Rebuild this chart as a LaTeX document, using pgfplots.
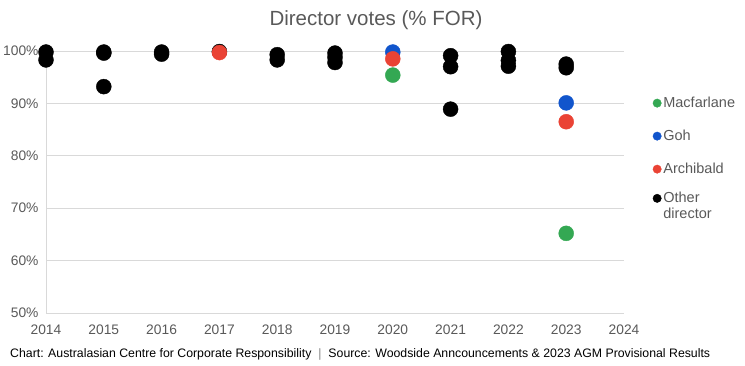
\documentclass[border=0pt]{standalone}
\usepackage{fontspec}
\setmainfont{Liberation Sans}
\usepackage{pgfplots}
\pgfplotsset{compat=1.18}
\definecolor{cgreen}{HTML}{34A853}
\definecolor{cblue}{HTML}{1155CC}
\definecolor{cred}{HTML}{EA4335}
\definecolor{gridgray}{HTML}{D9D9D9}
\definecolor{labelgray}{HTML}{595959}
\begin{document}
\begin{tikzpicture}[x=1pt,y=1pt]
\useasboundingbox (0,0) rectangle (745,366);
\begin{axis}[
  at={(46pt,53pt)}, anchor=south west,
  scale only axis, width=578pt, height=262pt,
  xmin=2014, xmax=2024, ymin=50, ymax=100,
  xtick={2014,2015,...,2024}, ytick={50,60,...,100},
  /pgf/number format/assume math mode=true,
  x tick label style={/pgf/number format/1000 sep={}, yshift=-8pt},
  y tick label style={xshift=-4pt},
  yticklabel={\pgfmathprintnumber{\tick}\%},
  tick label style={font=\fontsize{13.8}{16}\selectfont, text=labelgray},
  ymajorgrids, grid style={gridgray, line width=0.75pt},
  axis x line*=bottom, axis y line*=left,
  axis line style={gridgray, line width=0.75pt, -},
  major tick length=0pt,
  clip=false,
  legend style={at={(1.048,0.84)}, anchor=north west, draw=none, fill=none,
    font=\fontsize{14.5}{17}\selectfont, text=labelgray, row sep=17pt,
    cells={anchor=west}, inner xsep=1pt},
  legend cell align=left,
  legend image code/.code={\draw[#1] plot coordinates {(0pt,0pt)};},
]
\addplot[only marks, mark=*, mark size=7.5pt, black, forget plot] coordinates {
(2014,99.8) (2014,98.3)
(2015,99.8) (2015,99.6) (2015,93.2)
(2016,99.8) (2016,99.4)
(2017,99.9)
(2018,99.3) (2018,98.3)
(2019,99.6) (2019,98.8) (2019,97.8)
(2021,99.1) (2021,97.0) (2021,88.9)
(2022,99.9) (2022,98.2) (2022,97.1)
(2023,97.5) (2023,96.8)
};
\addplot[only marks, mark=*, mark size=7.5pt, cblue, forget plot] coordinates {
(2020,99.8) (2023,90.1)
};
\addplot[only marks, mark=*, mark size=7.5pt, cred, forget plot] coordinates {
(2017,99.7) (2020,98.5) (2023,86.5)
};
\addplot[only marks, mark=*, mark size=7.5pt, cgreen, forget plot] coordinates {
(2020,95.4) (2023,65.2)
};
\addlegendimage{only marks, mark=*, mark size=4.2pt, cgreen}
\addlegendentry{Macfarlane}
\addlegendimage{only marks, mark=*, mark size=4.2pt, cblue}
\addlegendentry{Goh}
\addlegendimage{only marks, mark=*, mark size=4.2pt, cred}
\addlegendentry{Archibald}
\addlegendimage{only marks, mark=*, mark size=4.2pt, black}
\addlegendentry{\raisebox{-0.33em}{\smash{\begin{tabular}[t]{@{}l@{}}Other\\[-0.5pt]director\end{tabular}}}}
\end{axis}
\node[font=\fontsize{20.5}{24}\selectfont, text=labelgray] at (376,346) {Director votes (\% FOR)};
\node[font=\fontsize{12.3}{14}\selectfont, anchor=west, inner sep=0pt] at (10,11) {Chart: Australasian Centre for Corporate Responsibility \ $|$\ \ Source: Woodside Anncouncements \& 2023 AGM Provisional Results};
\end{tikzpicture}
\end{document}
